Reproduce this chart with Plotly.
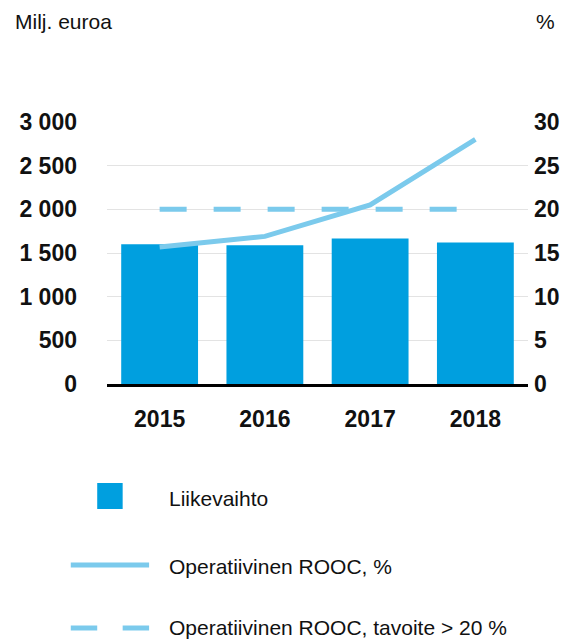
import plotly.graph_objects as go

years = ["2015", "2016", "2017", "2018"]
liikevaihto = [1600, 1590, 1665, 1620]
rooc = [15.7, 16.9, 20.5, 28.0]
target = [20, 20, 20, 20]

left_ticks = [0, 500, 1000, 1500, 2000, 2500, 3000]
left_labels = ["0", "500", "1 000", "1 500", "2 000", "2 500", "3 000"]
right_ticks = [0, 5, 10, 15, 20, 25, 30]

BAR = "#009FDF"
LINE = "#7BCAEC"
FONT = "Liberation Sans, Arial, sans-serif"
TXT = "#111111"

W, H = 572, 640
L, R, T, B = 107, 35, 122, 256
PW, PH = W - L - R, H - T - B


def px(x):
    return (x - L) / PW


def py(y):
    return (H - B - y) / PH


fig = go.Figure()
fig.add_trace(go.Bar(x=years, y=liikevaihto, marker=dict(color=BAR, line=dict(width=0)),
                     name="Liikevaihto", showlegend=False))
fig.add_trace(go.Scatter(x=years, y=target, yaxis="y2", mode="lines",
                         line=dict(color=LINE, width=5, dash="27px,27px"),
                         name="Operatiivinen ROOC, tavoite > 20 %", showlegend=False))
fig.add_trace(go.Scatter(x=years, y=rooc, yaxis="y2", mode="lines",
                         line=dict(color=LINE, width=5),
                         name="Operatiivinen ROOC, %", showlegend=False))

fig.update_layout(
    width=W, height=H,
    margin=dict(l=L, r=R, t=T, b=B, pad=0),
    plot_bgcolor="white", paper_bgcolor="white",
    bargap=0.27,
    font=dict(family=FONT, color="#000000"),
    xaxis=dict(showgrid=False, showline=True, linecolor="#000000", linewidth=2.5,
               ticks="", tickfont=dict(size=23, weight="bold", color=TXT),
               ticklabelstandoff=13, fixedrange=True),
    yaxis=dict(range=[0, 3000], tickvals=left_ticks, ticktext=left_labels,
               showgrid=True, gridcolor="#E3E3E3", gridwidth=1, zeroline=False,
               ticks="", ticklabelstandoff=29,
               tickfont=dict(size=23, weight="bold", color=TXT)),
    yaxis2=dict(range=[0, 30], tickvals=right_ticks, overlaying="y", side="right",
                showgrid=False, zeroline=False, ticks="", ticklabelstandoff=5,
                tickfont=dict(size=23, weight="bold", color=TXT)),
)

annotations = [
    dict(text="Milj. euroa", x=px(11), y=py(21), xanchor="left", yanchor="middle",
         font=dict(size=21, color=TXT)),
    dict(text="%", x=px(567), y=py(21), xanchor="right", yanchor="middle",
         font=dict(size=21, color=TXT)),
    dict(text="Liikevaihto", x=px(168), y=py(498), xanchor="left", yanchor="middle",
         font=dict(size=21, color=TXT)),
    dict(text="Operatiivinen ROOC, %", x=px(168), y=py(566), xanchor="left", yanchor="middle",
         font=dict(size=21, color=TXT)),
    dict(text="Operatiivinen ROOC, tavoite > 20 %", x=px(168), y=py(627), xanchor="left",
         yanchor="middle", font=dict(size=21, color=TXT)),
]
for a in annotations:
    a.update(xref="paper", yref="paper", showarrow=False)
fig.update_layout(annotations=annotations)

shapes = [
    dict(type="rect", x0=px(97), x1=px(123), y0=py(483), y1=py(509),
         fillcolor=BAR, line=dict(width=0)),
    dict(type="line", x0=px(70), x1=px(150), y0=py(565), y1=py(565),
         line=dict(color=LINE, width=5)),
    dict(type="line", x0=px(70), x1=px(97), y0=py(628), y1=py(628),
         line=dict(color=LINE, width=5)),
    dict(type="line", x0=px(123), x1=px(150), y0=py(628), y1=py(628),
         line=dict(color=LINE, width=5)),
]
for s in shapes:
    s.update(xref="paper", yref="paper")
fig.update_layout(shapes=shapes)

fig.write_html(
    "out.html",
    config={"displayModeBar": False},
    post_script="document.body.style.margin='0';document.body.style.overflow='hidden';",
)
